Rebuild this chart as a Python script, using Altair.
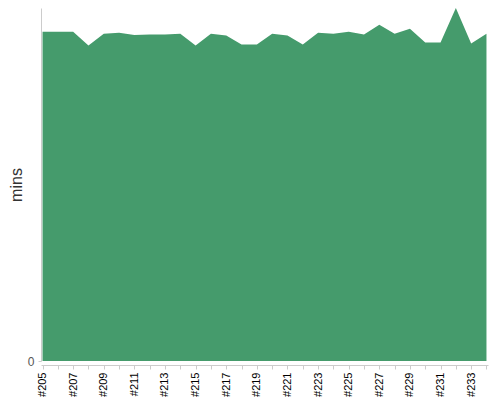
import altair as alt
import pandas as pd

builds = [f"#{n}" for n in range(205, 235)]
mins = [33.4, 33.4, 33.4, 32.0, 33.2, 33.3, 33.05, 33.1, 33.1, 33.2,
        32.0, 33.2, 33.0, 32.1, 32.1, 33.2, 33.0, 32.1, 33.3, 33.2,
        33.4, 33.1, 34.1, 33.2, 33.7, 32.3, 32.3, 35.8, 32.2, 33.2]

df = pd.DataFrame({"build": builds, "mins": mins})

label_expr = "(toNumber(slice(datum.label, 1)) - 205) % 2 == 0 ? datum.label : ''"

chart = alt.Chart(df).mark_area(color="#459b6c", opacity=1, interpolate="linear").encode(
    x=alt.X("build:O", sort=builds, title=None,
            scale=alt.Scale(type="point", padding=0.1),
            axis=alt.Axis(labelAngle=-90, labelExpr=label_expr, labelColor="#000",
                          labelFontSize=11, labelFont="Liberation Sans", domainColor="#ccc",
                          tickColor="#ccc", tickSize=4, offset=4, labelPadding=3)),
    y=alt.Y("mins:Q", title="mins",
            scale=alt.Scale(zero=True, nice=False, domain=[0, 35.8]),
            axis=alt.Axis(values=[0], grid=False, ticks=True, tickSize=3, tickColor="#ccc",
                          domainColor="#ccc",
                          labelColor="#555", labelFontSize=12, labelFont="Liberation Sans",
                          labelPadding=4, titleFontSize=16, titleFont="Liberation Sans",
                          titleFontWeight="normal", titleColor="#333", titlePadding=3)),
).properties(
    width=484, height=389,
    padding={"left": 0, "top": 0, "right": 0, "bottom": 0},
    autosize=alt.AutoSizeParams(type="fit", contains="padding"),
).configure_view(stroke=None)

chart.save("out.html", embed_options={"renderer": "svg", "actions": False})
